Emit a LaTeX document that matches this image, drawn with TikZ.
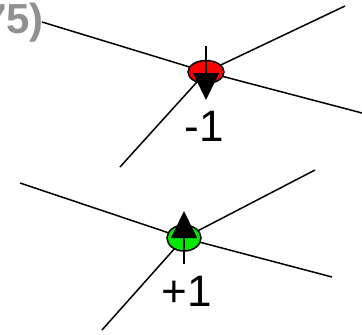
\documentclass[tikz,border=0pt]{standalone}
\usepackage{fontspec}
\setmainfont{Liberation Sans}
\usetikzlibrary{shapes.geometric,arrows.meta}

\begin{document}
\begin{tikzpicture}[x=1pt,y=-1pt]

% === Colors ===
\definecolor{vortexred}{RGB}{255,0,0}
\definecolor{vortexgreen}{RGB}{0,235,0}
\definecolor{labelgray}{RGB}{145,145,145}

\tikzset{
  leg/.style={line width=1.5pt},
  vortex/.style={ellipse, draw, line width=1.5pt, inner sep=0pt},
  spin/.style={line width=1.5pt, -{Triangle[length=27pt,width=26pt]}},
  charge/.style={inner sep=0pt, font=\fontsize{44}{44}\selectfont},
}

\useasboundingbox (0,0) rectangle (362,335);
\clip (0,0) rectangle (362,335);

% === Cut-off caption (gray, bold) ===
\node[anchor=base east, inner sep=0pt, text=labelgray,
  font=\fontsize{42}{42}\selectfont\bfseries] (caption) at (44,33) {75)};

% === Upper vortex (charge -1) ===
\coordinate (cm) at (206,72);
\foreach \x/\y in {42/22, 345/6, 362/113, 120/167}{
  \draw[leg] (\x,\y) -- (cm);
}
\node[vortex, fill=vortexred, minimum width=36pt, minimum height=23pt] (vm) at (cm) {};
\coordinate (mtail) at (206,46);
\coordinate (mtip) at (206,100);
\draw[spin] (mtail) -- (mtip);
\node[charge] (qm) at (204,126) {-1};

% === Lower vortex (charge +1) ===
\coordinate (cp) at (184,238);
\foreach \x/\y in {20/183, 315/170, 332/277, 102/330}{
  \draw[leg] (\x,\y) -- (cp);
}
\node[vortex, fill=vortexgreen, minimum width=34pt, minimum height=26pt] (vp) at (cp) {};
\coordinate (ptail) at (184,264);
\coordinate (ptip) at (184,211);
\draw[spin] (ptail) -- (ptip);
\node[charge] (qp) at (187,291) {+1};

\end{tikzpicture}
\end{document}
